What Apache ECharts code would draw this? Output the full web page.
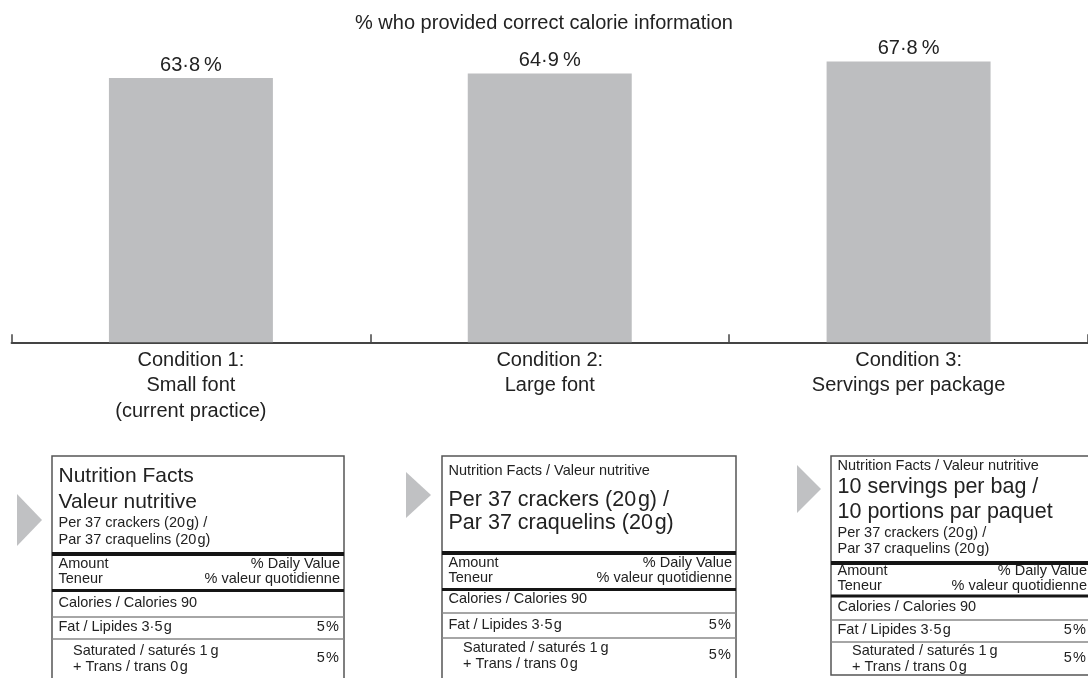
<!DOCTYPE html>
<html>
<head>
<meta charset="utf-8">
<style>
html,body{margin:0;padding:0;background:#ffffff;}
#chart{width:1088px;height:678px;}
</style>
<script src="https://cdn.jsdelivr.net/npm/echarts@6/dist/echarts.min.js"></script>
</head>
<body>
<div id="chart"></div>
<script>
// ---- chart data ----
const chartTitle = '% who provided correct calorie information';
const categories = [
  'Condition 1:\nSmall font\n(current practice)',
  'Condition 2:\nLarge font',
  'Condition 3:\nServings per package'
];
const percentCorrect = [63.8, 64.9, 67.8];

// ---- nutrition panel texts ----
const titleSmallFont = ['Nutrition Facts', 'Valeur nutritive'];
const titleBilingual = 'Nutrition Facts / Valeur nutritive';
const servingLines = ['Per 37 crackers (20\u200Ag) /', 'Par 37 craquelins (20\u200Ag)'];
const servingsPerPackage = ['10 servings per bag /', '10 portions par paquet'];
const headerLeft = ['Amount', 'Teneur'];
const headerRight = ['% Daily Value', '% valeur quotidienne'];
const caloriesLine = 'Calories / Calories 90';
const fatLine = 'Fat / Lipides 3\u00B75\u200Ag';
const fatDV = '5\u200A%';
const satLines = ['Saturated / saturés 1\u2009g', '+ Trans / trans 0\u200Ag'];
const satDV = '5\u200A%';

const FF = '"Liberation Sans", Arial, Helvetica, sans-serif';
const INK = '#222222';
const BAR = '#bdbec0';

function txt(s, x, baseline, size, align) {
  return {
    type: 'text', silent: true, x: x, y: baseline - 0.35 * size,
    style: { text: s, fontSize: size, fontFamily: FF, fill: INK,
             align: align || 'left', verticalAlign: 'middle' }
  };
}
function hbar(x1, x2, y, h, color) {
  return { type: 'rect', silent: true, shape: { x: x1, y: y, width: x2 - x1, height: h }, style: { fill: color } };
}
function tri(x, yTop, yTip, yBot, xTip) {
  return { type: 'polygon', silent: true, shape: { points: [[x, yTop], [xTip, yTip], [x, yBot]] }, style: { fill: '#c0c1c3' } };
}

function panel(L) {
  const els = [];
  els.push({ type: 'rect', silent: true, shape: { x: L.left, y: L.top, width: L.right - L.left, height: L.bottom - L.top },
             style: { fill: '#ffffff', stroke: '#555555', lineWidth: 1.5 } });
  const tx = L.left + 6.5, rx = L.right - 4, ix = L.left + 21;
  L.head.forEach(h => els.push(txt(h.s, tx, h.y, h.size)));
  els.push(hbar(L.left, L.right, L.thick1, 4, '#151515'));
  els.push(txt(headerLeft[0], tx, L.amount, 14.5));
  els.push(txt(headerRight[0], rx, L.amount, 14.5, 'right'));
  els.push(txt(headerLeft[1], tx, L.amount + 15.5, 14.5));
  els.push(txt(headerRight[1], rx, L.amount + 15.5, 14.5, 'right'));
  els.push(hbar(L.left, L.right, L.thick2, 3, '#151515'));
  els.push(txt(caloriesLine, tx, L.cal, 14.5));
  els.push(hbar(L.left, L.right, L.thin1 - 0.75, 1.5, '#888888'));
  els.push(txt(fatLine, tx, L.fat, 14.5));
  els.push(txt(fatDV, rx - 1, L.fat, 14.5, 'right'));
  els.push(hbar(L.left, L.right, L.thin2 - 0.75, 1.5, '#888888'));
  els.push(txt(satLines[0], ix, L.sat, 14.5));
  els.push(txt(satLines[1], ix, L.sat + 16, 14.5));
  els.push(txt(satDV, rx - 1, L.sat + 7.5, 14.5, 'right'));
  return els;
}

const graphicEls = [].concat(
  [tri(17, 494, 520, 546, 42), tri(406, 472, 495, 518, 431), tri(797, 465, 489, 513, 821)],
  panel({
    left: 52, right: 344, top: 456, bottom: 720,
    head: [
      { s: titleSmallFont[0], y: 484, size: 21 },
      { s: titleSmallFont[1], y: 510, size: 21 },
      { s: servingLines[0], y: 528, size: 14.5 },
      { s: servingLines[1], y: 545, size: 14.5 }
    ],
    thick1: 552, amount: 569, thick2: 589, cal: 608, thin1: 617, fat: 632, thin2: 639, sat: 656
  }),
  panel({
    left: 442, right: 736, top: 456, bottom: 720,
    head: [
      { s: titleBilingual, y: 476, size: 14.5 },
      { s: servingLines[0], y: 508, size: 21.5 },
      { s: servingLines[1], y: 531, size: 21.5 }
    ],
    thick1: 551, amount: 568, thick2: 588, cal: 604, thin1: 613, fat: 630, thin2: 638, sat: 653
  }),
  panel({
    left: 831, right: 1091, top: 456, bottom: 675,
    head: [
      { s: titleBilingual, y: 471, size: 14.5 },
      { s: servingsPerPackage[0], y: 495, size: 21.5 },
      { s: servingsPerPackage[1], y: 520, size: 21.5 },
      { s: servingLines[0], y: 538, size: 14.5 },
      { s: servingLines[1], y: 554, size: 14.5 }
    ],
    thick1: 561, amount: 576, thick2: 594.5, cal: 612, thin1: 620, fat: 635, thin2: 642, sat: 656
  })
);

const chart = echarts.init(document.getElementById('chart'), null, { renderer: 'canvas' });
chart.setOption({
  backgroundColor: '#ffffff',
  animation: false,
  textStyle: { fontFamily: FF },
  title: {
    text: chartTitle, left: 'center', top: 13, padding: 0,
    textStyle: { fontSize: 20, fontWeight: 'normal', color: INK, fontFamily: FF, lineHeight: 20 }
  },
  grid: { left: 11.5, right: -13.5, top: 11, bottom: 335.7, containLabel: false },
  xAxis: {
    type: 'category', data: categories,
    axisLine: { show: true, lineStyle: { color: '#444444', width: 1.8 } },
    axisTick: { show: true, inside: true, length: 8, alignWithLabel: false, lineStyle: { color: '#444444', width: 1.5 } },
    axisLabel: { margin: 5, fontSize: 20, lineHeight: 25.5, color: INK, fontFamily: FF, interval: 0 }
  },
  yAxis: { type: 'value', min: 0, max: 80, show: false, splitLine: { show: false } },
  series: [{
    type: 'bar', data: percentCorrect, barWidth: '45.7%',
    itemStyle: { color: BAR },
    label: {
      show: true, position: 'top', distance: 3, fontSize: 20, lineHeight: 20, color: INK, fontFamily: FF,
      formatter: p => p.value.toFixed(1).replace('.', '\u00B7') + '\u2009%'
    }
  }],
  graphic: { elements: graphicEls }
});
</script>
</body>
</html>
